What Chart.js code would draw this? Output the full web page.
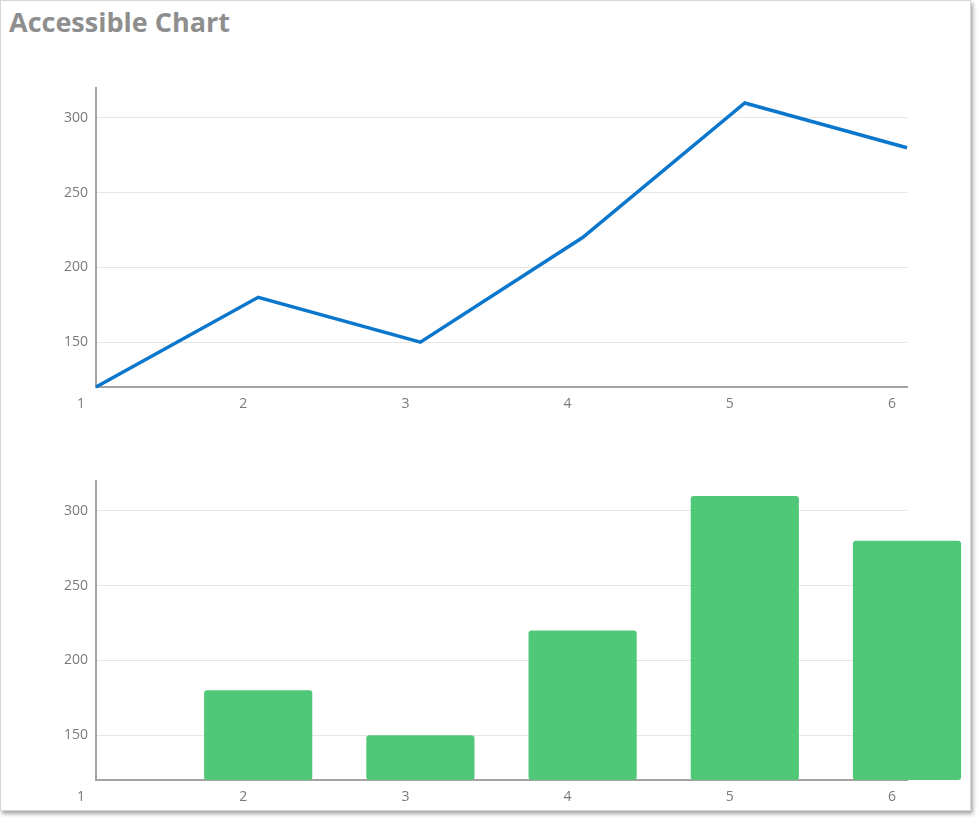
<!DOCTYPE html>
<html>
<head>
<meta charset="utf-8">
<script src="https://cdn.jsdelivr.net/npm/chart.js@4/dist/chart.umd.min.js"></script>
<style>
  html, body { margin: 0; padding: 0; background: #fff; }
  #frame {
    position: absolute; left: 0; top: 0; width: 971px; height: 811px;
    border: 1px solid #d4d6de; box-shadow: 2px 3px 4px rgba(0,0,0,0.35);
    background: #fff; box-sizing: border-box;
  }
  h1 {
    position: absolute; left: 8px; top: 2px; margin: 0;
    font: bold 27px "Open Sans", "Noto Sans", sans-serif; color: #8e8e8e;
  }
  .box { position: absolute; left: 0; width: 971px; height: 360px; }
</style>
</head>
<body>
<div id="frame">
  <h1>Accessible Chart</h1>
  <div class="box" style="top:60px"><canvas id="line-chart"></canvas></div>
  <div class="box" style="top:453px"><canvas id="bar-chart"></canvas></div>
</div>
<script>
// dados
const labels = ["1", "2", "3", "4", "5", "6"]
const values = [120, 180, 150, 220, 310, 280]
const yTicks = [150, 200, 250, 300]
const yMin = 120
const yMax = 320

Chart.defaults.font.family = "'Open Sans', 'Noto Sans', sans-serif"
Chart.defaults.font.size = 14
Chart.defaults.color = "#7a7a7a"

// opções comuns dos eixos
function scales() {
  return {
    x: {
      offset: false,
      grid: { display: false, drawTicks: false },
      border: { color: "#a3a3a3", width: 2 },
      ticks: { padding: 9, labelOffset: -15, maxRotation: 0 },
      afterFit: (s) => { s.height = 34 },
    },
    y: {
      min: yMin,
      max: yMax,
      grid: { color: "#e6e6e6", drawTicks: false },
      border: { color: "#a3a3a3", width: 2 },
      ticks: { padding: 8 },
      afterBuildTicks: (s) => { s.ticks = yTicks.map((v) => ({ value: v })) },
      afterFit: (s) => { s.width = 95 },
    },
  }
}

const common = {
  responsive: true,
  maintainAspectRatio: false,
  animation: false,
  layout: { padding: { top: 27, right: 65, left: 0, bottom: 0 } },
  plugins: { legend: { display: false }, tooltip: { enabled: false } },
}

new Chart(document.getElementById("line-chart"), {
  type: "line",
  data: {
    labels: labels,
    datasets: [{
      data: values,
      borderColor: "#0b77cc",
      borderWidth: 3.5,
      pointRadius: 0,
      tension: 0,
      clip: false,
    }],
  },
  options: { ...common, scales: scales() },
})

new Chart(document.getElementById("bar-chart"), {
  type: "bar",
  data: {
    labels: labels,
    datasets: [{
      data: values,
      base: yMin,
      backgroundColor: "#50c878",
      borderRadius: 3,
      borderSkipped: false,
      barPercentage: 1,
      categoryPercentage: 0.667,
      clip: false,
    }],
  },
  options: { ...common, scales: scales() },
})
</script>
</body>
</html>
